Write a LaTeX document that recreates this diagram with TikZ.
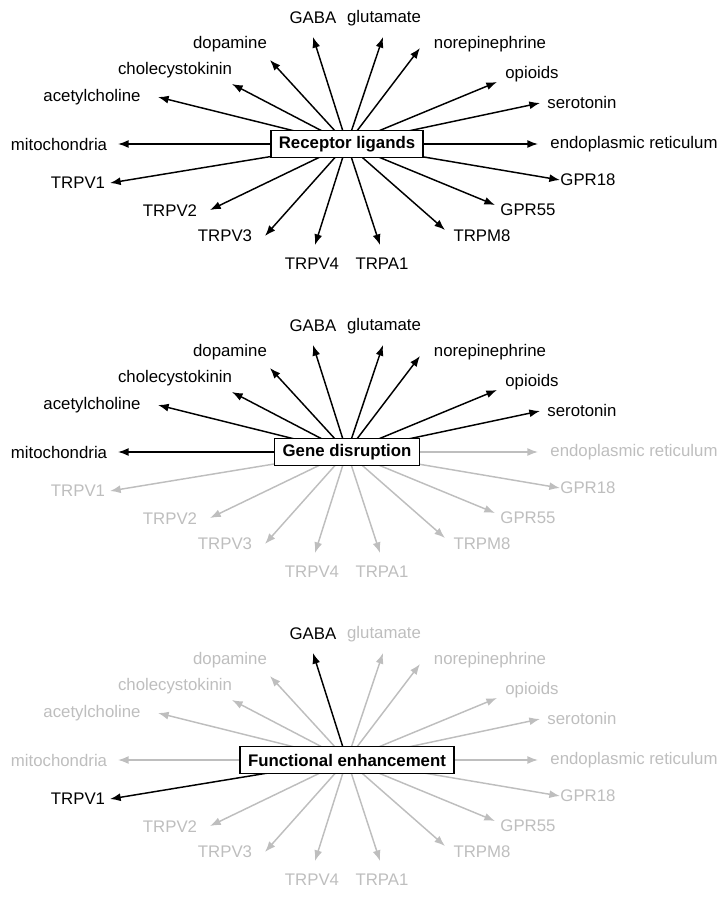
\documentclass[tikz,border=0pt]{standalone}
\usepackage{fontspec}
\setmainfont{Liberation Sans}
\usetikzlibrary{arrows.meta}
\definecolor{gr}{RGB}{190,190,190}
\tikzset{arr/.style={-{Latex[length=8pt,width=6pt]},line width=1.1pt},
lab/.style={font=\fontsize{12.6}{14}\selectfont,inner sep=1pt},
box/.style={draw,line width=1.1pt,fill=white,font=\fontsize{12.6}{14}\selectfont\bfseries,inner xsep=6pt,minimum height=20pt}}
\newcommand\panel[4]{%
\coordinate (#2c) at (347,144+#1);
\foreach \id/\tx/\ty/\lx/\ly/\t in {gaba/313/37/313/18/GABA,glu/383/37/384/18/glutamate,
dop/270/60/230/44/dopamine,nor/420/48/490/44/norepinephrine,cck/232/84/175/70/cholecystokinin,
opi/497/82/532/74/opioids,ach/158/97/92/97/acetylcholine,ser/540/103/582/102/serotonin,
mit/118/144/59/144/mitochondria,er/538/144/634/144/endoplasmic reticulum,
v1/110/183/78/183/TRPV1,g18/560/180/588/180/GPR18,v2/210/210/170/211/TRPV2,
g55/495/205/528/210/GPR55,v3/265/236/225/236/TRPV3,m8/445/230/482/236/TRPM8,
v4/315/245/312/264/TRPV4,a1/380/245/382/264/TRPA1}{
 \ifcsname k#2\id\endcsname\def\cc{black}\else\def\cc{#4}\fi
 \coordinate (#2\id t) at (\tx,\ty+#1);
 \draw[arr,draw=\cc,fill=\cc] (#2c) -- (#2\id t);
 \node[lab,text=\cc] (#2\id) at (\lx,\ly+#1) {\t};
}
\node[box] (#2box) at (#2c) {#3};}
\begin{document}
\begin{tikzpicture}[x=0.75pt,y=-0.75pt]
\useasboundingbox (0,0) rectangle (727,899);
\panel{0}{A}{Receptor ligands}{black}
\foreach \n in {gaba,glu,dop,nor,cck,opi,ach,ser,mit}{\expandafter\gdef\csname kB\n\endcsname{}}
\panel{308}{B}{Gene disruption}{gr}
\expandafter\gdef\csname kCgaba\endcsname{}
\expandafter\gdef\csname kCv1\endcsname{}
\panel{616}{C}{Functional enhancement}{gr}
\end{tikzpicture}
\end{document}
